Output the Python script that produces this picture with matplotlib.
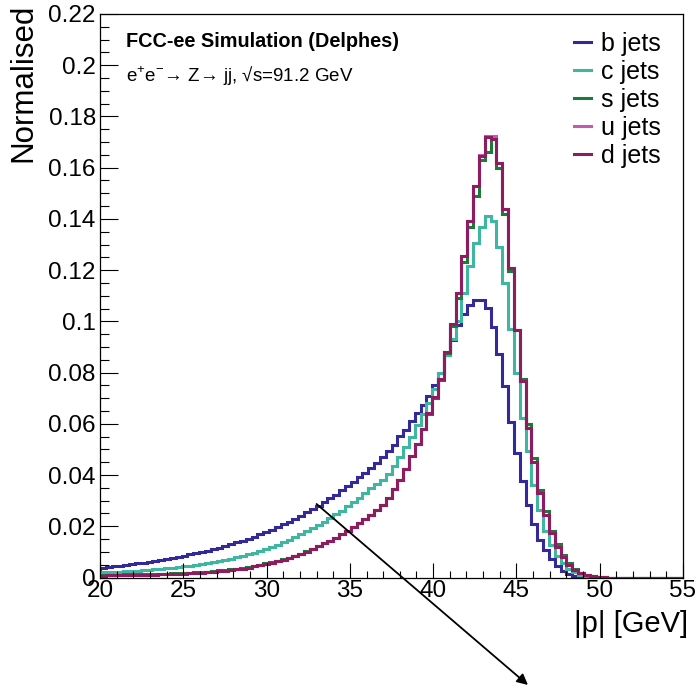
import numpy as np
import matplotlib
matplotlib.use("Agg")
import matplotlib.pyplot as plt
from matplotlib.ticker import MultipleLocator, FormatStrFormatter

plt.rcParams['font.family'] = ['Liberation Sans', 'DejaVu Sans']
plt.rcParams['mathtext.fontset'] = 'custom'
plt.rcParams['mathtext.rm'] = 'Liberation Sans'

# binning: 100 bins between 20 and 55 GeV
x_min, x_max, n_bins = 20.0, 55.0, 100

b_jets = [
    0.0039, 0.0041, 0.0044, 0.0046, 0.0049, 0.0052, 0.0055, 0.0058, 0.0061, 0.0065,
    0.0068, 0.0072, 0.0076, 0.0081, 0.0085, 0.0090, 0.0095, 0.0100, 0.0105, 0.0111,
    0.0117, 0.0123, 0.0130, 0.0137, 0.0144, 0.0152, 0.0160, 0.0169, 0.0178, 0.0187,
    0.0197, 0.0207, 0.0218, 0.0229, 0.0241, 0.0254, 0.0267, 0.0281, 0.0295, 0.0309,
    0.0324, 0.0340, 0.0356, 0.0373, 0.0391, 0.0409, 0.0428, 0.0448, 0.0470, 0.0495,
    0.0518, 0.0552, 0.0577, 0.0612, 0.0642, 0.0672, 0.0707, 0.0753, 0.0800, 0.0870,
    0.0929, 0.0985, 0.1030, 0.1062, 0.1085, 0.1082, 0.1053, 0.0978, 0.0874, 0.0746,
    0.0609, 0.0486, 0.0375, 0.0284, 0.0208, 0.0147, 0.0106, 0.0072, 0.0045, 0.0026,
    0.0014, 0.0007, 0.0003, 0.0001, 0.0001, 0.0, 0.0, 0.0, 0.0, 0.0,
    0.0, 0.0, 0.0, 0.0, 0.0, 0.0, 0.0, 0.0, 0.0, 0.0,
]

c_jets = [
    0.0020, 0.0021, 0.0022, 0.0023, 0.0024, 0.0026, 0.0027, 0.0029, 0.0031, 0.0032,
    0.0034, 0.0036, 0.0038, 0.0040, 0.0043, 0.0046, 0.0049, 0.0053, 0.0056, 0.0060,
    0.0064, 0.0069, 0.0074, 0.0079, 0.0085, 0.0091, 0.0097, 0.0104, 0.0111, 0.0119,
    0.0128, 0.0137, 0.0146, 0.0157, 0.0168, 0.0180, 0.0192, 0.0204, 0.0217, 0.0231,
    0.0246, 0.0261, 0.0278, 0.0294, 0.0312, 0.0330, 0.0348, 0.0365, 0.0380, 0.0405,
    0.0435, 0.0470, 0.0510, 0.0550, 0.0595, 0.0640, 0.0680, 0.0735, 0.0800, 0.0870,
    0.0930, 0.1000, 0.1110, 0.1215, 0.1307, 0.1370, 0.1410, 0.1390, 0.1290, 0.1150,
    0.0970, 0.0800, 0.0623, 0.0492, 0.0362, 0.0264, 0.0180, 0.0125, 0.0085, 0.0055,
    0.0034, 0.0020, 0.0011, 0.0006, 0.0003, 0.0002, 0.0001, 0.0, 0.0, 0.0,
    0.0, 0.0, 0.0, 0.0, 0.0, 0.0, 0.0, 0.0, 0.0, 0.0,
]

s_jets = [
    0.0010, 0.0011, 0.0011, 0.0011, 0.0012, 0.0012, 0.0013, 0.0013, 0.0014, 0.0014,
    0.0015, 0.0015, 0.0016, 0.0017, 0.0017, 0.0019, 0.0020, 0.0022, 0.0023, 0.0025,
    0.0028, 0.0030, 0.0032, 0.0035, 0.0038, 0.0042, 0.0046, 0.0050, 0.0055, 0.0060,
    0.0065, 0.0071, 0.0078, 0.0085, 0.0093, 0.0102, 0.0112, 0.0123, 0.0133, 0.0144,
    0.0156, 0.0169, 0.0183, 0.0198, 0.0214, 0.0229, 0.0245, 0.0262, 0.0282, 0.0310,
    0.0345, 0.0381, 0.0425, 0.0475, 0.0520, 0.0580, 0.0640, 0.0700, 0.0770, 0.0875,
    0.0980, 0.1090, 0.1230, 0.1370, 0.1490, 0.1630, 0.1660, 0.1710, 0.1600, 0.1420,
    0.1195, 0.0965, 0.0775, 0.0600, 0.0465, 0.0340, 0.0258, 0.0183, 0.0130, 0.0088,
    0.0055, 0.0033, 0.0018, 0.0009, 0.0004, 0.0002, 0.0001, 0.0, 0.0, 0.0,
    0.0, 0.0, 0.0, 0.0, 0.0, 0.0, 0.0, 0.0, 0.0, 0.0,
]

u_jets = [
    0.0007, 0.0008, 0.0008, 0.0008, 0.0009, 0.0009, 0.0010, 0.0010, 0.0011, 0.0011,
    0.0012, 0.0012, 0.0013, 0.0014, 0.0014, 0.0016, 0.0017, 0.0019, 0.0020, 0.0022,
    0.0025, 0.0027, 0.0029, 0.0032, 0.0035, 0.0039, 0.0043, 0.0047, 0.0052, 0.0057,
    0.0063, 0.0069, 0.0076, 0.0084, 0.0092, 0.0101, 0.0112, 0.0123, 0.0133, 0.0144,
    0.0156, 0.0169, 0.0183, 0.0198, 0.0214, 0.0229, 0.0245, 0.0262, 0.0282, 0.0310,
    0.0345, 0.0381, 0.0425, 0.0475, 0.0520, 0.0580, 0.0642, 0.0705, 0.0775, 0.0880,
    0.0990, 0.1110, 0.1255, 0.1392, 0.1530, 0.1650, 0.1724, 0.1722, 0.1620, 0.1437,
    0.1209, 0.0965, 0.0766, 0.0585, 0.0450, 0.0329, 0.0245, 0.0173, 0.0120, 0.0081,
    0.0050, 0.0030, 0.0016, 0.0008, 0.0004, 0.0002, 0.0001, 0.0, 0.0, 0.0,
    0.0, 0.0, 0.0, 0.0, 0.0, 0.0, 0.0, 0.0, 0.0, 0.0,
]

d_jets = [
    0.0007, 0.0008, 0.0008, 0.0008, 0.0009, 0.0009, 0.0010, 0.0010, 0.0011, 0.0011,
    0.0012, 0.0012, 0.0013, 0.0014, 0.0014, 0.0016, 0.0017, 0.0019, 0.0020, 0.0022,
    0.0025, 0.0027, 0.0029, 0.0032, 0.0035, 0.0039, 0.0043, 0.0047, 0.0052, 0.0057,
    0.0063, 0.0069, 0.0076, 0.0084, 0.0092, 0.0101, 0.0112, 0.0123, 0.0133, 0.0144,
    0.0156, 0.0169, 0.0183, 0.0198, 0.0214, 0.0229, 0.0245, 0.0262, 0.0282, 0.0310,
    0.0345, 0.0381, 0.0425, 0.0475, 0.0520, 0.0580, 0.0642, 0.0705, 0.0775, 0.0880,
    0.0990, 0.1110, 0.1255, 0.1392, 0.1528, 0.1646, 0.1718, 0.1712, 0.1620, 0.1437,
    0.1209, 0.0965, 0.0766, 0.0585, 0.0450, 0.0329, 0.0245, 0.0173, 0.0120, 0.0081,
    0.0050, 0.0030, 0.0016, 0.0008, 0.0004, 0.0002, 0.0001, 0.0, 0.0, 0.0,
    0.0, 0.0, 0.0, 0.0, 0.0, 0.0, 0.0, 0.0, 0.0, 0.0,
]

labels = ['b jets', 'c jets', 's jets', 'u jets', 'd jets']
colors = ['#34299a', '#3fb6a0', '#1d7b3a', '#c45ab4', '#8c1d5e']
series = [b_jets, c_jets, s_jets, u_jets, d_jets]

# arrow drawn from a point on the b-jet curve
arrow_x, arrow_y = 33.0, 0.0287

edges = np.linspace(x_min, x_max, n_bins + 1)

fig = plt.figure(figsize=(6.98, 6.88), dpi=100)
ax = fig.add_axes([0.1433, 0.1606, 0.8352, 0.8191])

for vals, lab, col in zip(series, labels, colors):
    ax.stairs(vals, edges, baseline=0, color=col, lw=2.2, label=lab)

ax.set_xlim(x_min, x_max)
ax.set_ylim(0, 0.22)

ax.xaxis.set_major_locator(MultipleLocator(5))
ax.xaxis.set_minor_locator(MultipleLocator(1))
ax.yaxis.set_major_locator(MultipleLocator(0.02))
ax.yaxis.set_minor_locator(MultipleLocator(0.005))
ax.xaxis.set_major_formatter(FormatStrFormatter('%g'))
ax.yaxis.set_major_formatter(FormatStrFormatter('%g'))

ax.tick_params(which='both', direction='in', top=False, right=False,
               width=0.8, labelsize=17.5)
ax.tick_params(axis='x', which='major', length=11, pad=2)
ax.tick_params(axis='x', which='minor', length=5)
ax.tick_params(axis='y', which='major', length=13, pad=3)
ax.tick_params(axis='y', which='minor', length=6.5)
for sp in ax.spines.values():
    sp.set_linewidth(0.9)

ax.set_xlabel('|p| [GeV]', fontsize=21, loc='right')
ax.xaxis.set_label_coords(1.008, -0.058)
ax.set_ylabel('Normalised', fontsize=22.5, loc='top')
ax.yaxis.set_label_coords(-0.105, 1.018)

ax.text(0.045, 0.951, 'FCC-ee Simulation (Delphes)', transform=ax.transAxes,
        fontsize=14.3, fontweight='bold', va='center', ha='left')
ax.text(0.045, 0.889, 'e$^{+}$e$^{-}$\u2192 Z\u2192 jj, \u221as=91.2 GeV',
        transform=ax.transAxes, fontsize=13.5, va='center', ha='left')

ax.legend(loc='upper right', bbox_to_anchor=(0.987, 0.995), frameon=False,
          fontsize=18, handlelength=0.65, handletextpad=0.4,
          labelspacing=0.16, borderaxespad=0.2)

ax.annotate('', xy=(0.7564, 0.0044), xycoords='figure fraction',
            xytext=(arrow_x, arrow_y), textcoords='data',
            arrowprops=dict(arrowstyle='-|>', color='black', lw=1.3,
                            mutation_scale=16, shrinkA=0, shrinkB=0),
            annotation_clip=False)

fig.savefig('out.png', dpi=100)
